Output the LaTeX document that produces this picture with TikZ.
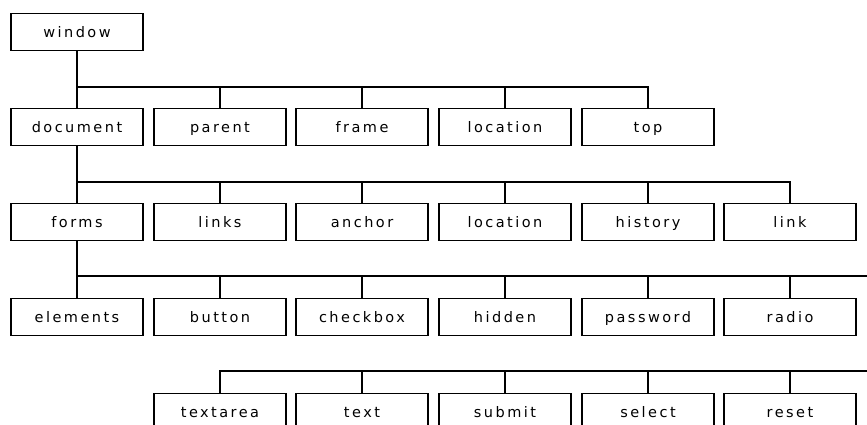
\documentclass[tikz,border=0pt]{standalone}
\usepackage{fontspec}
\setmainfont{DejaVu Sans}[LetterSpace=17]
\usepackage{tikz}
\usepackage{xcolor}

\begin{document}
\begin{tikzpicture}[x=1pt,y=-1pt,line width=1.3pt,
		box/.style={draw,rectangle,minimum width=132pt,minimum height=37pt,inner sep=0pt,
			text height=11.5pt,text depth=0pt,font=\fontsize{14.5}{15}\selectfont}]
			\useasboundingbox (0,0) rectangle (867,425);
			\clip (0,0) rectangle (867,425);
			% rows
			\node[box] (window) at (77,32) {window};
			\node[box] (document) at (77,127) {document};
			\node[box] (parent) at (220,127) {parent};
			\node[box] (frame) at (362,127) {frame};
			\node[box] (location) at (505,127) {location};
			\node[box] (top) at (648,127) {top};
			\node[box] (forms) at (77,222) {forms};
			\node[box] (links) at (220,222) {links};
			\node[box] (anchor) at (362,222) {anchor};
			\node[box] (doclocation) at (505,222) {location};
			\node[box] (history) at (648,222) {history};
			\node[box] (link) at (790,222) {link};
			\node[box] (elements) at (77,317) {elements};
			\node[box] (button) at (220,317) {button};
			\node[box] (checkbox) at (362,317) {checkbox};
			\node[box] (hidden) at (505,317) {hidden};
			\node[box] (password) at (648,317) {password};
			\node[box] (radio) at (790,317) {radio};
			\node[box] (textarea) at (220,412) {textarea};
			\node[box] (text) at (362,412) {text};
			\node[box] (submit) at (505,412) {submit};
			\node[box] (select) at (648,412) {select};
			\node[box] (reset) at (790,412) {reset};
			% buses
			\coordinate (bus1) at (0,87);
			\coordinate (bus2) at (0,182);
			\coordinate (bus3) at (867,276);
			\coordinate (bus4) at (867,371);
			\draw (window.south) -- (document.north);
			\draw (window.south |- bus1) -| (top.north);
			\foreach \Nom in {parent,frame,location}
				\draw (\Nom.north) -- (\Nom.north |- bus1);
			\draw (document.south) -- (forms.north);
			\draw (document.south |- bus2) -| (link.north);
			\foreach \Nom in {links,anchor,doclocation,history}
				\draw (\Nom.north) -- (\Nom.north |- bus2);
			\draw (forms.south) -- (elements.north);
			\draw (forms.south |- bus3) -- (bus3);
			\foreach \Nom in {button,checkbox,hidden,password,radio}
				\draw (\Nom.north) -- (\Nom.north |- bus3);
			\draw (textarea.north) |- (bus4);
			\foreach \Nom in {text,submit,select,reset}
				\draw (\Nom.north) -- (\Nom.north |- bus4);
		\end{tikzpicture}
\end{document}
